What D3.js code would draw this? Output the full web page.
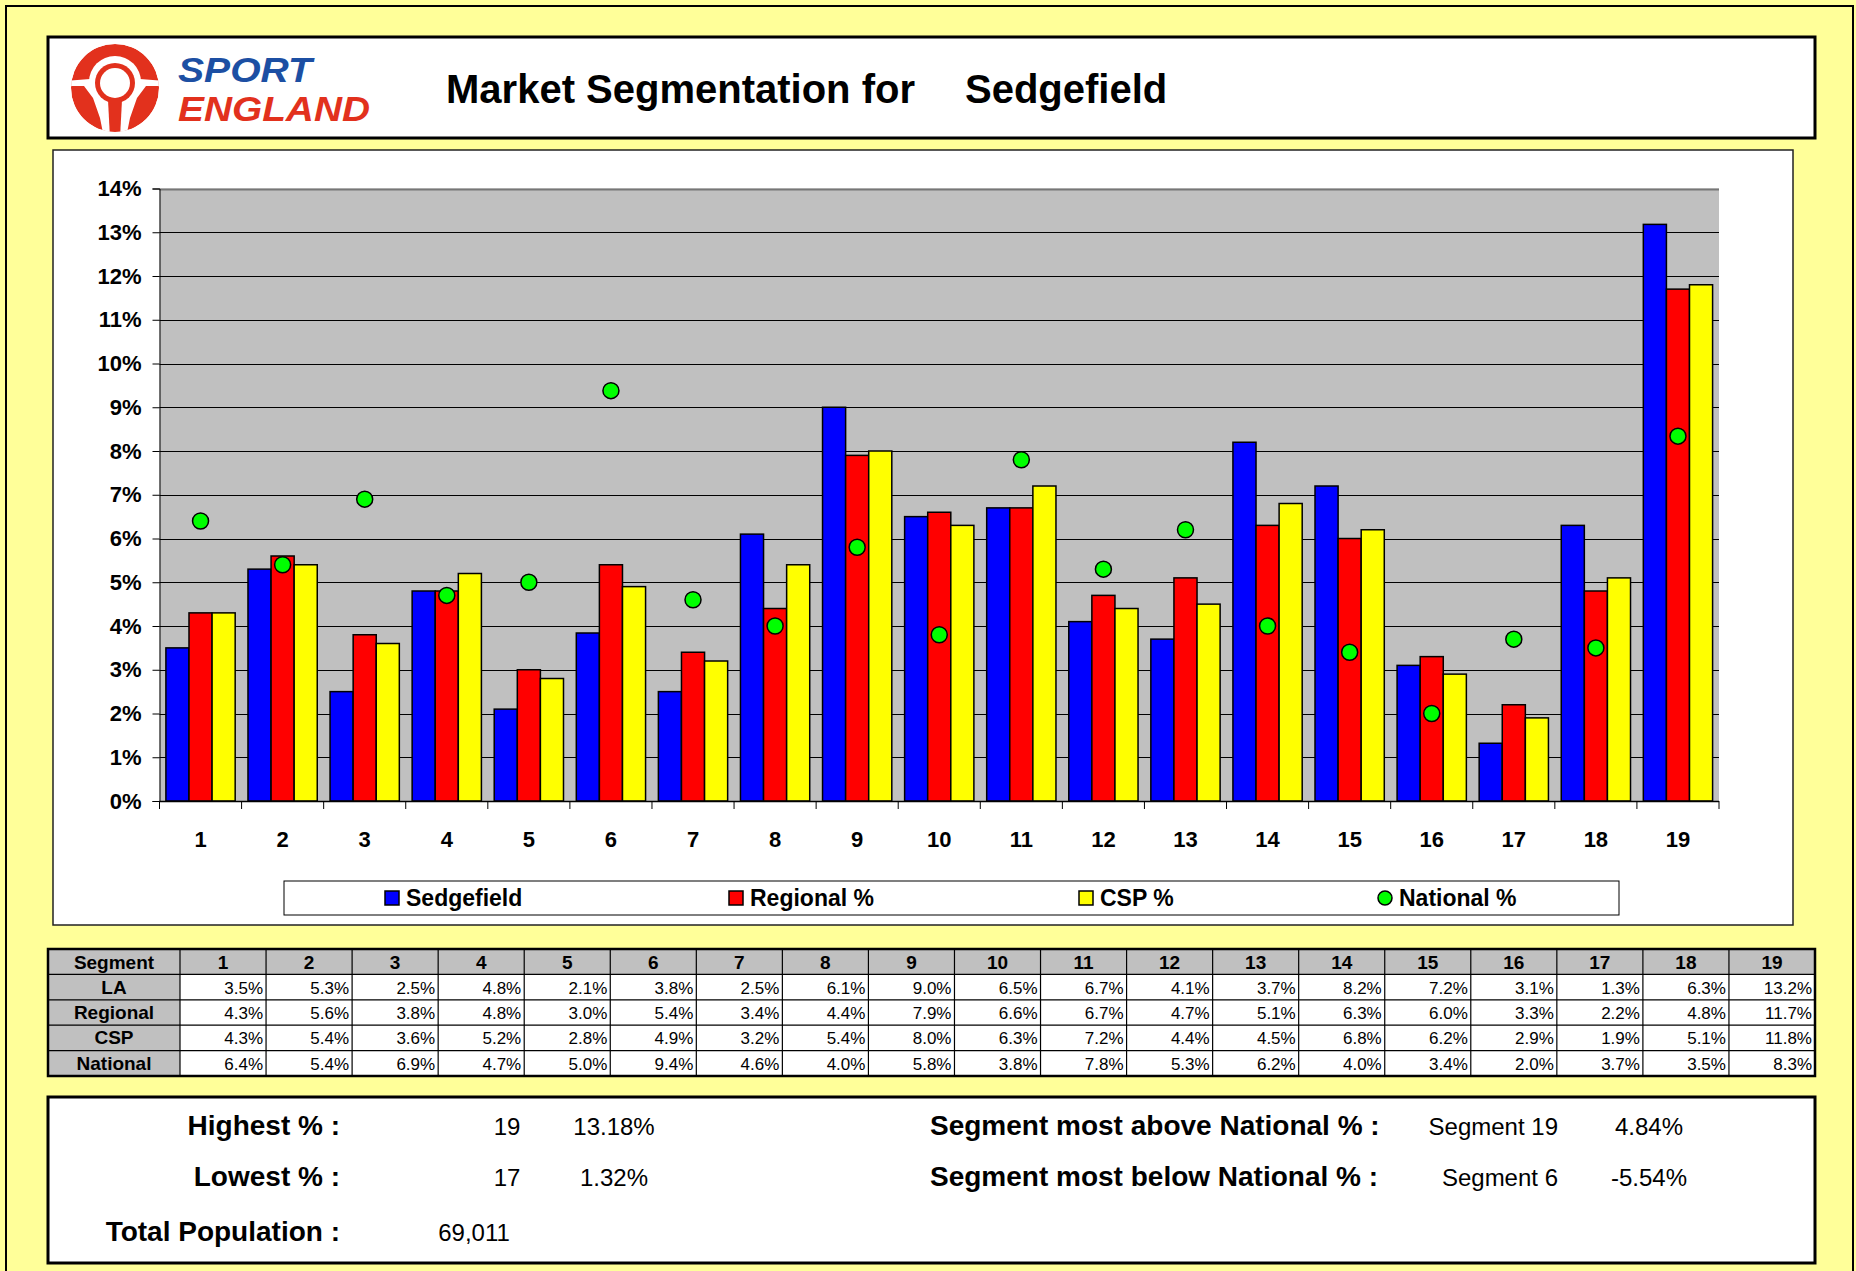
<!DOCTYPE html>
<html>
<head>
<meta charset="utf-8">
<script src="https://cdn.jsdelivr.net/npm/d3@7"></script>
<style>
  body { margin: 0; background: #ffff99; }
  svg text { font-family: "Liberation Sans", Arial, sans-serif; }
</style>
</head>
<body>
<div id="page"></div>
<script>
"use strict";

// Data
const segments = d3.range(1, 20);
const laValues = [3.5, 5.3, 2.5, 4.8, 2.1, 3.84, 2.5, 6.1, 9.0, 6.5, 6.7, 4.1, 3.7, 8.2, 7.2, 3.1, 1.32, 6.3, 13.18];
const regionalValues = [4.3, 5.6, 3.8, 4.8, 3.0, 5.4, 3.4, 4.4, 7.9, 6.6, 6.7, 4.7, 5.1, 6.3, 6.0, 3.3, 2.2, 4.8, 11.7];
const cspValues = [4.3, 5.4, 3.6, 5.2, 2.8, 4.9, 3.2, 5.4, 8.0, 6.3, 7.2, 4.4, 4.5, 6.8, 6.2, 2.9, 1.9, 5.1, 11.8];
const nationalValues = [6.4, 5.4, 6.9, 4.7, 5.0, 9.38, 4.6, 4.0, 5.8, 3.8, 7.8, 5.3, 6.2, 4.0, 3.4, 2.0, 3.7, 3.5, 8.34];
const seriesNames = ["Sedgefield", "Regional %", "CSP %", "National %"];
const seriesColors = ["#0000ff", "#ff0000", "#ffff00", "#00ff00"];
const rowNames = ["LA", "Regional", "CSP", "National"];
const areaName = "Sedgefield";
const totalPopulation = "69,011";

const W = 1856, H = 1271;
const svg = d3.select("#page").append("svg").attr("width", W).attr("height", H);

// Page frame
svg.append("rect").attr("x", 6).attr("y", 6).attr("width", 1847).attr("height", 1320)
  .attr("fill", "#ffff99").attr("stroke", "#000").attr("stroke-width", 2);

// ---- Header ----
svg.append("rect").attr("x", 48).attr("y", 37).attr("width", 1767).attr("height", 101)
  .attr("fill", "#fff").attr("stroke", "#000").attr("stroke-width", 3);

const logo = svg.append("g").attr("transform", "translate(115, 88)");
const red = "#e2311d";
logo.append("clipPath").attr("id", "logoClip").append("circle").attr("r", 44);
const lg = logo.append("g").attr("clip-path", "url(#logoClip)");
lg.append("circle").attr("r", 44).attr("fill", red);
lg.append("circle").attr("cx", 0).attr("cy", -6).attr("r", 26).attr("fill", "#fff");
lg.append("path").attr("fill", "#fff")
  .attr("d", "M-25,-9 L-50,-7 L-50,-2 L-31,-2 L-22,10 L-15,30 L-11,50 L11,50 L15,30 L22,10 L31,-2 L50,-2 L50,-7 L25,-9 Z");
lg.append("circle").attr("cx", 0).attr("cy", -5).attr("r", 20).attr("fill", red);
lg.append("circle").attr("cx", 0).attr("cy", -5).attr("r", 15).attr("fill", "#fff");
lg.append("path").attr("fill", red).attr("d", "M-7,12 L7,12 L5,50 L-5,50 Z");

svg.append("text").attr("x", 178).attr("y", 82).text("SPORT")
  .attr("font-size", 35).attr("font-weight", "bold").attr("font-style", "italic").attr("fill", "#1c4fa3")
  .attr("textLength", 134).attr("lengthAdjust", "spacingAndGlyphs");
svg.append("text").attr("x", 178).attr("y", 121).text("ENGLAND")
  .attr("font-size", 35).attr("font-weight", "bold").attr("font-style", "italic").attr("fill", red)
  .attr("textLength", 192).attr("lengthAdjust", "spacingAndGlyphs");

svg.append("text").attr("x", 446).attr("y", 103).text("Market Segmentation for")
  .attr("font-size", 40).attr("font-weight", "bold");
svg.append("text").attr("x", 965).attr("y", 103).text(areaName)
  .attr("font-size", 40).attr("font-weight", "bold");

// ---- Chart ----
svg.append("rect").attr("x", 53).attr("y", 150).attr("width", 1740).attr("height", 775)
  .attr("fill", "#fff").attr("stroke", "#222").attr("stroke-width", 1.5);

const plot = { left: 159.5, right: 1719, top: 188.5, bottom: 801 };

const x = d3.scaleBand().domain(segments).range([plot.left, plot.right])
  .paddingInner(0.156).paddingOuter(0.078);
const xSub = d3.scaleBand().domain([0, 1, 2]).range([0, x.bandwidth()]);
const y = d3.scaleLinear().domain([0, 14]).range([plot.bottom, plot.top]);

svg.append("rect").attr("x", plot.left).attr("y", plot.top)
  .attr("width", plot.right - plot.left).attr("height", plot.bottom - plot.top).attr("fill", "#c0c0c0");

// gridlines
svg.append("g").selectAll("line").data(y.ticks(14).filter(d => d > 0)).join("line")
  .attr("x1", plot.left).attr("x2", plot.right)
  .attr("y1", d => Math.round(y(d)) + 0.5).attr("y2", d => Math.round(y(d)) + 0.5)
  .attr("stroke", d => d === 14 ? "#777" : "#000").attr("stroke-width", d => d === 14 ? 2 : 1);

// y axis
const yAxis = svg.append("g").attr("transform", `translate(${plot.left},0)`)
  .call(d3.axisLeft(y).ticks(14).tickFormat(d => d + "%").tickSize(7).tickPadding(11));
yAxis.select(".domain").attr("stroke", "#000");
yAxis.selectAll("text").attr("font-size", 22).attr("font-weight", "bold").attr("fill", "#000")
  .attr("font-family", "Liberation Sans, Arial, sans-serif");

// bars
const barData = segments.map((s, i) => ({ s, vals: [laValues[i], regionalValues[i], cspValues[i]] }));
const groups = svg.append("g").selectAll("g").data(barData).join("g")
  .attr("transform", d => `translate(${x(d.s)},0)`);
groups.selectAll("rect").data(d => d.vals).join("rect")
  .attr("x", (d, i) => xSub(i)).attr("width", xSub.bandwidth())
  .attr("y", d => y(d)).attr("height", d => y(0) - y(d))
  .attr("fill", (d, i) => seriesColors[i]).attr("stroke", "#000").attr("stroke-width", 1.5);

// x axis line, boundary ticks and labels
svg.append("line").attr("x1", plot.left).attr("x2", plot.right)
  .attr("y1", plot.bottom + 0.5).attr("y2", plot.bottom + 0.5).attr("stroke", "#000").attr("stroke-width", 1.5);
svg.append("g").selectAll("line").data(d3.range(segments.length + 1)).join("line")
  .attr("x1", i => plot.left + i * x.step()).attr("x2", i => plot.left + i * x.step())
  .attr("y1", plot.bottom).attr("y2", plot.bottom + 8).attr("stroke", "#000");
svg.append("g").selectAll("text").data(segments).join("text")
  .attr("x", d => x(d) + x.bandwidth() / 2).attr("y", 847)
  .attr("text-anchor", "middle").attr("font-size", 22).attr("font-weight", "bold").text(d => d);

// national markers
svg.append("g").selectAll("circle").data(segments).join("circle")
  .attr("cx", d => x(d) + x.bandwidth() / 2).attr("cy", (d, i) => y(nationalValues[i]))
  .attr("r", 8).attr("fill", seriesColors[3]).attr("stroke", "#000").attr("stroke-width", 1.5);

// legend
svg.append("rect").attr("x", 284).attr("y", 881).attr("width", 1335).attr("height", 34)
  .attr("fill", "#fff").attr("stroke", "#000").attr("stroke-width", 1);
const legendX = [385, 729, 1079, 1378];
const legendItem = svg.append("g").selectAll("g").data(seriesNames).join("g")
  .attr("transform", (d, i) => `translate(${legendX[i]},898)`);
legendItem.each(function (d, i) {
  const g = d3.select(this);
  if (i === 3) {
    g.append("circle").attr("cx", 7).attr("cy", 0).attr("r", 7)
      .attr("fill", seriesColors[i]).attr("stroke", "#000").attr("stroke-width", 1.5);
  } else {
    g.append("rect").attr("x", 0).attr("y", -7).attr("width", 14).attr("height", 14)
      .attr("fill", seriesColors[i]).attr("stroke", "#000").attr("stroke-width", 1.5);
  }
});
legendItem.append("text").attr("x", 21).attr("y", 8).attr("font-size", 23).attr("font-weight", "bold").text(d => d);

// ---- Table ----
const tbl = { x: 48, y: 949, firstW: 132, colW: (1815 - 180) / 19, rowH: 25.4 };
const tableRows = [laValues, regionalValues, cspValues, nationalValues];
const table = svg.append("g");
const colX = i => tbl.x + tbl.firstW + i * tbl.colW;

table.append("rect").attr("x", tbl.x).attr("y", tbl.y).attr("width", 1815 - tbl.x).attr("height", tbl.rowH * 5)
  .attr("fill", "#fff");
table.append("rect").attr("x", tbl.x).attr("y", tbl.y).attr("width", 1815 - tbl.x).attr("height", tbl.rowH)
  .attr("fill", "#c0c0c0");
table.append("rect").attr("x", tbl.x).attr("y", tbl.y).attr("width", tbl.firstW).attr("height", tbl.rowH * 5)
  .attr("fill", "#c0c0c0");

table.selectAll("line.h").data(d3.range(1, 5)).join("line").attr("class", "h")
  .attr("x1", tbl.x).attr("x2", 1815)
  .attr("y1", i => tbl.y + i * tbl.rowH).attr("y2", i => tbl.y + i * tbl.rowH)
  .attr("stroke", "#000").attr("stroke-width", 1.2);
table.selectAll("line.v").data(d3.range(0, 19)).join("line").attr("class", "v")
  .attr("x1", colX).attr("x2", colX)
  .attr("y1", tbl.y).attr("y2", tbl.y + 5 * tbl.rowH)
  .attr("stroke", "#000").attr("stroke-width", 1.2);
table.append("rect").attr("x", tbl.x).attr("y", tbl.y).attr("width", 1815 - tbl.x).attr("height", tbl.rowH * 5)
  .attr("fill", "none").attr("stroke", "#000").attr("stroke-width", 2.5);

const headY = tbl.y + tbl.rowH / 2 + 7;
table.append("text").attr("x", tbl.x + tbl.firstW / 2).attr("y", headY).attr("text-anchor", "middle")
  .attr("font-size", 19).attr("font-weight", "bold").text("Segment");
table.selectAll("text.seg").data(segments).join("text").attr("class", "seg")
  .attr("x", (d, i) => colX(i) + tbl.colW / 2).attr("y", headY).attr("text-anchor", "middle")
  .attr("font-size", 19).attr("font-weight", "bold").text(d => d);

rowNames.forEach((name, r) => {
  const by = tbl.y + (r + 1) * tbl.rowH + tbl.rowH / 2 + 6.5;
  table.append("text").attr("x", tbl.x + tbl.firstW / 2).attr("y", by).attr("text-anchor", "middle")
    .attr("font-size", 19).attr("font-weight", "bold").text(name);
  table.append("g").selectAll("text").data(tableRows[r]).join("text")
    .attr("x", (d, i) => colX(i + 1) - 3).attr("y", by).attr("text-anchor", "end")
    .attr("font-size", 17).text(d => d.toFixed(1) + "%");
});

// ---- Summary box ----
svg.append("rect").attr("x", 48).attr("y", 1097).attr("width", 1767).attr("height", 166)
  .attr("fill", "#fff").attr("stroke", "#000").attr("stroke-width", 3);

const hiIdx = d3.maxIndex(laValues);
const loIdx = d3.minIndex(laValues);
const diffs = laValues.map((v, i) => v - nationalValues[i]);
const aboveIdx = d3.maxIndex(diffs);
const belowIdx = d3.minIndex(diffs);

const summary = svg.append("g");
const bold = (t, xx, yy, anchor) => summary.append("text").attr("x", xx).attr("y", yy)
  .attr("text-anchor", anchor).attr("font-size", 28).attr("font-weight", "bold").text(t);
const plain = (t, xx, yy, anchor) => summary.append("text").attr("x", xx).attr("y", yy)
  .attr("text-anchor", anchor).attr("font-size", 24).text(t);

bold("Highest % :", 340, 1135, "end");
bold("Lowest % :", 340, 1186, "end");
bold("Total Population :", 340, 1241, "end");
plain(segments[hiIdx], 507, 1135, "middle");
plain(laValues[hiIdx].toFixed(2) + "%", 614, 1135, "middle");
plain(segments[loIdx], 507, 1186, "middle");
plain(laValues[loIdx].toFixed(2) + "%", 614, 1186, "middle");
plain(totalPopulation, 474, 1241, "middle");

bold("Segment most above National % :", 930, 1135, "start");
bold("Segment most below National % :", 930, 1186, "start");
plain("Segment " + segments[aboveIdx], 1558, 1135, "end");
plain("Segment " + segments[belowIdx], 1558, 1186, "end");
plain(diffs[aboveIdx].toFixed(2) + "%", 1649, 1135, "middle");
plain(diffs[belowIdx].toFixed(2) + "%", 1649, 1186, "middle");
</script>
</body>
</html>
